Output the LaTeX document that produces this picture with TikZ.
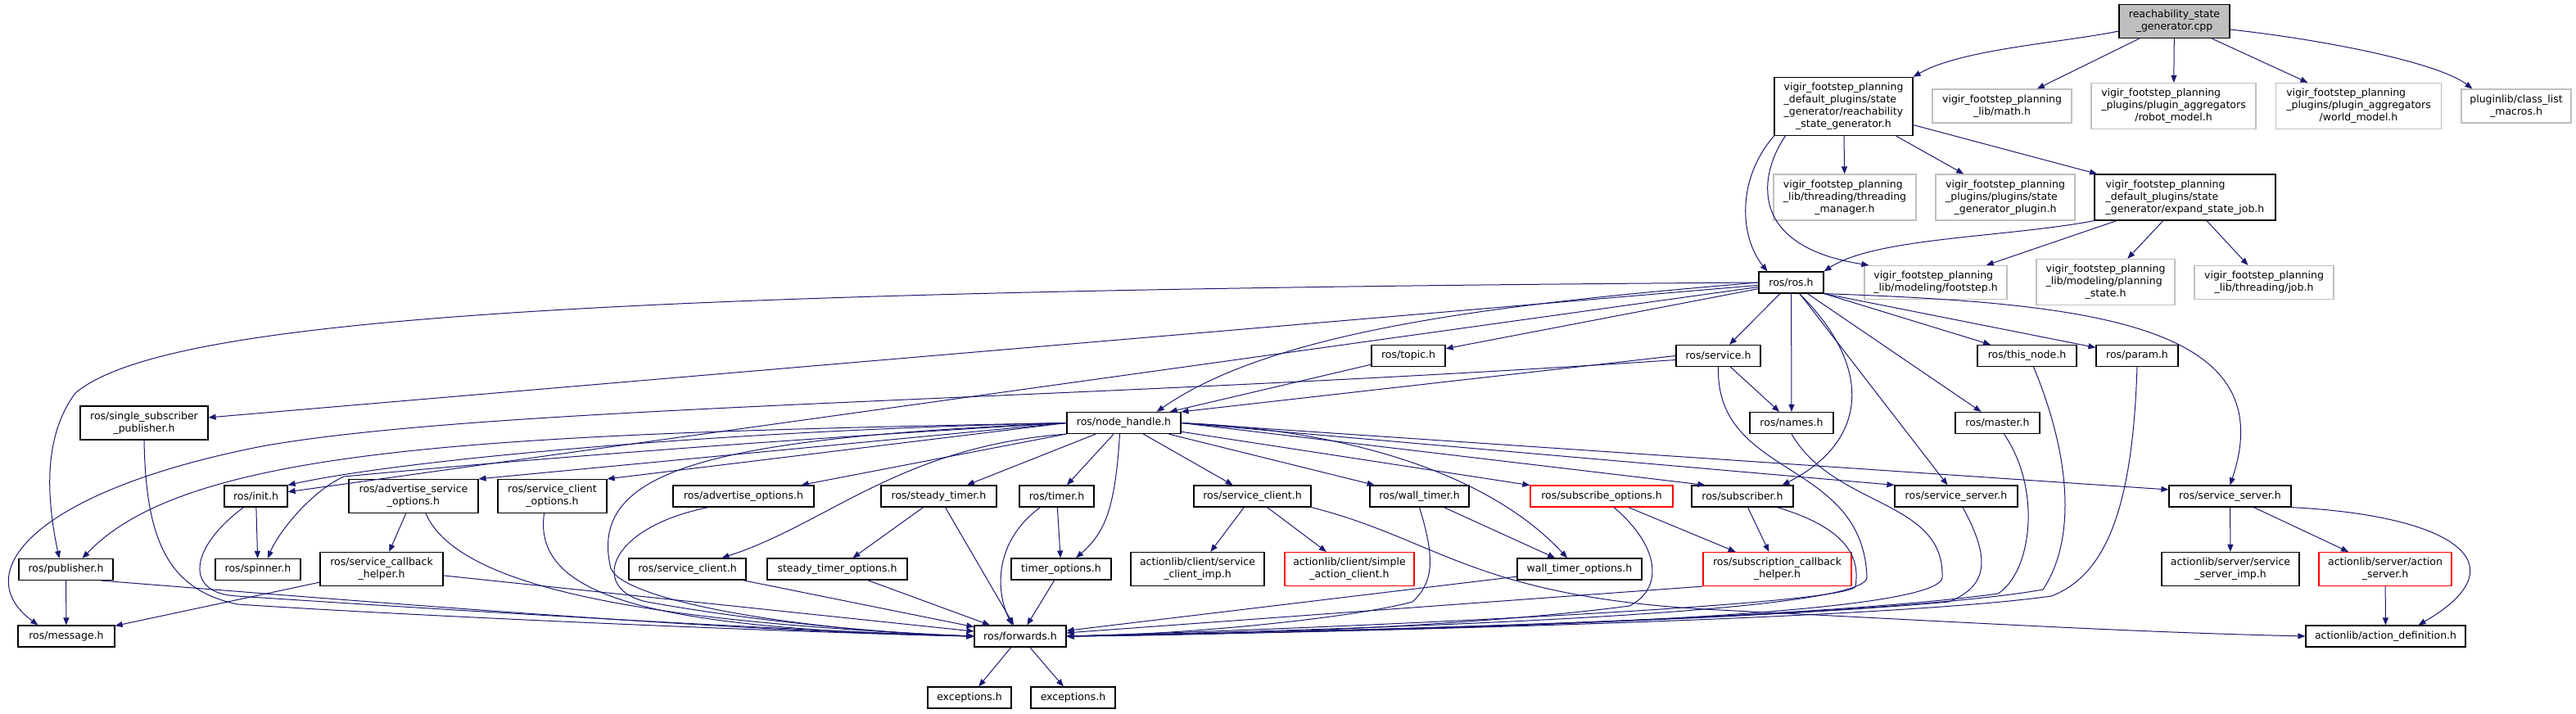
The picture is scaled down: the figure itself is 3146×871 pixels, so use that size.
\documentclass[tikz,border=0pt]{standalone}
\usepackage{fontspec}
\setmainfont{DejaVu Sans}
\usetikzlibrary{arrows.meta}
\definecolor{edgeblue}{HTML}{191970}
\definecolor{lightframe}{HTML}{BFBFBF}
\newcommand{\flines}[2]{\begin{tabular}{@{}l@{}}#1\\\multicolumn{1}{@{}c@{}}{#2}\end{tabular}}
\tikzset{
  file/.style={draw=black,line width=1.2pt,inner sep=0pt,minimum height=26pt,font=\fontsize{12.5}{15}\selectfont},
  extfile/.style={file,draw=lightframe},
  cutfile/.style={file,draw=red},
  rootfile/.style={file,fill=lightframe},
  two/.style={minimum height=41pt},
  three/.style={minimum height=56pt},
  four/.style={minimum height=71pt},
  inc/.style={draw=edgeblue,line width=1pt,-{Triangle[length=9pt,width=7pt]}}
}
\begin{document}
\begin{tikzpicture}[x=1pt,y=1pt]
\useasboundingbox (0,0) rectangle (3146,-871);
\node[rootfile,two,minimum width=135pt] (cpp) at (2655.5,-26) {\flines{reachability\_state}{\_generator.cpp}};
\node[file,four,minimum width=169pt] (reach) at (2251.5,-130) {\flines{vigir\_footstep\_planning\\\_default\_plugins/state\\\_generator/reachability}{\_state\_generator.h}};
\node[extfile,two,minimum width=170pt] (mathh) at (2445,-129.5) {\flines{vigir\_footstep\_planning}{\_lib/math.h}};
\node[extfile,three,minimum width=201pt] (robotmodel) at (2654.5,-129.5) {\flines{vigir\_footstep\_planning\\\_plugins/plugin\_aggregators}{/robot\_model.h}};
\node[extfile,three,minimum width=202pt] (worldmodel) at (2880.5,-129.5) {\flines{vigir\_footstep\_planning\\\_plugins/plugin\_aggregators}{/world\_model.h}};
\node[extfile,two,minimum width=134pt] (classlist) at (3073,-129.5) {\flines{pluginlib/class\_list}{\_macros.h}};
\node[extfile,three,minimum width=174pt] (thrmgr) at (2253,-241) {\flines{vigir\_footstep\_planning\\\_lib/threading/threading}{\_manager.h}};
\node[extfile,three,minimum width=170pt] (sgplugin) at (2449,-241) {\flines{vigir\_footstep\_planning\\\_plugins/plugins/state}{\_generator\_plugin.h}};
\node[file,three,minimum width=221pt] (expandjob) at (2668.5,-241) {\flines{vigir\_footstep\_planning\\\_default\_plugins/state}{\_generator/expand\_state\_job.h}};
\node[file,minimum width=79pt] (rosh) at (2187.5,-345) {ros/ros.h};
\node[extfile,two,minimum width=174pt] (footstep) at (2364,-345) {\flines{vigir\_footstep\_planning}{\_lib/modeling/footstep.h}};
\node[extfile,three,minimum width=169pt] (planstate) at (2571.5,-344.5) {\flines{vigir\_footstep\_planning\\\_lib/modeling/planning}{\_state.h}};
\node[extfile,two,minimum width=170pt] (job) at (2765,-345) {\flines{vigir\_footstep\_planning}{\_lib/threading/job.h}};
\node[file,minimum width=90pt] (topic) at (1720,-434.5) {ros/topic.h};
\node[file,minimum width=103pt] (service) at (2098.5,-434.5) {ros/service.h};
\node[file,minimum width=121pt] (thisnode) at (2475.5,-434.5) {ros/this\_node.h};
\node[file,minimum width=100pt] (param) at (2610,-434.5) {ros/param.h};
\node[file,two,minimum width=156pt] (sspub) at (176,-516.5) {\flines{ros/single\_subscriber}{\_publisher.h}};
\node[file,minimum width=139pt] (nodehandle) at (1372.5,-516.5) {ros/node\_handle.h};
\node[file,minimum width=102pt] (names) at (2188,-516.5) {ros/names.h};
\node[file,minimum width=103pt] (master) at (2439.5,-516.5) {ros/master.h};
\node[file,minimum width=77pt] (init) at (312.5,-606) {ros/init.h};
\node[file,two,minimum width=158pt] (advsrvopts) at (505,-606) {\flines{ros/advertise\_service}{\_options.h}};
\node[file,two,minimum width=133pt] (srvcliopts) at (674.5,-606) {\flines{ros/service\_client}{\_options.h}};
\node[file,minimum width=172pt] (advopts) at (908,-606) {ros/advertise\_options.h};
\node[file,minimum width=141pt] (steadytimer) at (1146.5,-606) {ros/steady\_timer.h};
\node[file,minimum width=91pt] (timer) at (1290.5,-606) {ros/timer.h};
\node[file,minimum width=143pt] (srvclient) at (1529.5,-606) {ros/service\_client.h};
\node[file,minimum width=121pt] (walltimer) at (1733.5,-606) {ros/wall\_timer.h};
\node[cutfile,minimum width=174pt] (subopts) at (1956,-606) {ros/subscribe\_options.h};
\node[file,minimum width=124pt] (subscriber) at (2128,-606) {ros/subscriber.h};
\node[file,minimum width=150pt] (srvserver) at (2389,-606) {ros/service\_server.h};
\node[file,minimum width=149pt] (srvserverb) at (2723.5,-606) {ros/service\_server.h};
\node[file,minimum width=115pt] (publisher) at (80.5,-695.5) {ros/publisher.h};
\node[file,minimum width=104pt] (spinner) at (315,-695.5) {ros/spinner.h};
\node[file,two,minimum width=150pt] (srvcbhelper) at (466,-695) {\flines{ros/service\_callback}{\_helper.h}};
\node[file,minimum width=143pt] (srvclientb) at (839.5,-695) {ros/service\_client.h};
\node[file,minimum width=171pt] (steadyopts) at (1022.5,-695) {steady\_timer\_options.h};
\node[file,minimum width=122pt] (timeropts) at (1296,-695) {timer\_options.h};
\node[file,two,minimum width=163pt] (cliimp) at (1462.5,-695) {\flines{actionlib/client/service}{\_client\_imp.h}};
\node[cutfile,two,minimum width=158pt] (simpleclient) at (1648,-695) {\flines{actionlib/client/simple}{\_action\_client.h}};
\node[file,minimum width=152pt] (wallopts) at (1929,-695) {wall\_timer\_options.h};
\node[cutfile,two,minimum width=181pt] (subcbhelper) at (2170.5,-695) {\flines{ros/subscription\_callback}{\_helper.h}};
\node[file,two,minimum width=168pt] (srvimp) at (2724,-695) {\flines{actionlib/server/service}{\_server\_imp.h}};
\node[cutfile,two,minimum width=162pt] (actionserver) at (2913,-695) {\flines{actionlib/server/action}{\_server.h}};
\node[file,minimum width=118pt] (message) at (81,-777) {ros/message.h};
\node[file,minimum width=112pt] (forwards) at (1246,-777) {ros/forwards.h};
\node[file,minimum width=195pt] (actiondef) at (2913.5,-777) {actionlib/action\_definition.h};
\node[file,minimum width=102pt] (exceptions) at (1184,-852) {exceptions.h};
\node[file,minimum width=103pt] (exceptionsb) at (1310.5,-852) {exceptions.h};

\draw[inc] ([yshift=-12pt]cpp.west) .. controls (2520,-52) and (2395,-60) .. (reach.north east);
\draw[inc] (cpp) -- (mathh);
\draw[inc] (cpp) -- (robotmodel);
\draw[inc] (cpp) -- (worldmodel);
\draw[inc] ([yshift=-10pt]cpp.east) .. controls (2850,-50) and (2980,-78) .. ([xshift=14pt]classlist.north west);
\draw[inc] (reach.south west) .. controls (2120,-220) and (2125,-290) .. ([xshift=11pt]rosh.north west);
\draw[inc] ([xshift=14pt]reach.south west) .. controls (2150,-210) and (2130,-300) .. ([xshift=6pt]footstep.north west);
\draw[inc] (reach) -- (thrmgr);
\draw[inc] (reach) -- (sgplugin);
\draw[inc] (reach) -- (expandjob);
\draw[inc] (expandjob.south west) .. controls (2450,-290) and (2290,-290) .. (rosh.north east);
\draw[inc] (expandjob) -- (footstep);
\draw[inc] (expandjob) -- (planstate);
\draw[inc] (expandjob) -- (job);

\draw[inc] (rosh.west) .. controls (700,-355) and (200,-390) .. (92,-480) .. controls (55,-530) and (55,-600) .. ([xshift=50pt]publisher.north west);
\draw[inc] (rosh) -- (sspub);
\draw[inc] (rosh.west) .. controls (1850,-370) and (1560,-400) .. ([xshift=-30pt]nodehandle.north east);
\draw[inc] (rosh) -- (topic);
\draw[inc] (rosh) -- (service);
\draw[inc] (rosh) -- (names);
\draw[inc] (rosh) -- (init);
\draw[inc] (rosh.south east) -- (thisnode);
\draw[inc] (rosh.south east) -- (param);
\draw[inc] (rosh) -- (master);
\draw[inc] ([xshift=10pt]rosh.south) .. controls (2290,-450) and (2280,-540) .. ([xshift=-14pt]subscriber.north east);
\draw[inc] (rosh) -- (srvserver);
\draw[inc] (rosh.south east) .. controls (2550,-370) and (2790,-395) .. (srvserverb.north);

\draw[inc] (topic) -- ([xshift=-14pt]nodehandle.north east);
\draw[inc] (service.west) -- (nodehandle.north east);
\draw[inc] (service) -- (names);
\draw[inc] ([yshift=-5pt]service.west) .. controls (1300,-490) and (600,-495) .. (320,-545) .. controls (40,-600) and (-40,-700) .. ([xshift=25pt]message.north west);
\draw[inc] (service.south) .. controls (2095,-585) and (2275,-560) .. (2280,-705) .. controls (2280,-752) and (1600,-770) .. (forwards.east);

\draw[inc] (nodehandle.west) .. controls (880,-535) and (720,-570) .. (745,-690) .. controls (748,-735) and (1000,-772) .. (forwards.west);
\draw[inc] (nodehandle.west) .. controls (600,-530) and (230,-545) .. ([xshift=-38pt]publisher.north east);
\draw[inc] (nodehandle.west) .. controls (900,-525) and (500,-560) .. (init.north east);
\draw[inc] (nodehandle.west) .. controls (900,-540) and (600,-565) .. (420,-582) .. controls (380,-600) and (340,-650) .. ([xshift=12pt]spinner.north);
\draw[inc] (nodehandle.west) -- (advsrvopts.north east);
\draw[inc] (nodehandle.west) -- (srvcliopts.north east);
\draw[inc] (nodehandle) -- (advopts);
\draw[inc] (nodehandle.south west) .. controls (1100,-545) and (1010,-640) .. ([xshift=42pt]srvclientb.north);
\draw[inc] (nodehandle) -- (steadytimer);
\draw[inc] (nodehandle) -- (timer);
\draw[inc] ([xshift=-5pt]nodehandle.south) .. controls (1362,-620) and (1350,-650) .. ([xshift=18pt]timeropts.north);
\draw[inc] (nodehandle) -- (srvclient);
\draw[inc] (nodehandle) -- (walltimer);
\draw[inc] (nodehandle.east) .. controls (1650,-525) and (1820,-580) .. ([xshift=-15pt]wallopts.north);
\draw[inc] (nodehandle) -- (subopts);
\draw[inc] (nodehandle.east) -- ([xshift=17pt]subscriber.north west);
\draw[inc] (nodehandle.east) -- (srvserver.north west);
\draw[inc] (nodehandle.east) -- ([yshift=8pt]srvserverb.west);

\draw[inc] (sspub.south) .. controls (178,-660) and (205,-720) .. (290,-738) .. controls (500,-752) and (950,-772) .. (forwards.west);
\draw[inc] ([xshift=-15pt]init.south) .. controls (230,-670) and (225,-725) .. (290,-728) .. controls (500,-742) and (950,-770) .. (forwards.west);
\draw[inc] (init) -- (spinner);
\draw[inc] ([xshift=-15pt]publisher.south east) .. controls (450,-735) and (900,-772) .. (forwards.west);
\draw[inc] (publisher) -- (message);
\draw[inc] (advsrvopts) -- (srvcbhelper);
\draw[inc] ([xshift=15pt]advsrvopts.south) .. controls (560,-720) and (800,-760) .. (forwards.west);
\draw[inc] (srvcbhelper) -- (message);
\draw[inc] (srvcbhelper) -- (forwards);
\draw[inc] ([xshift=-10pt]srvcliopts.south) .. controls (650,-730) and (800,-768) .. (forwards.west);
\draw[inc] ([xshift=-43pt]advopts.south) .. controls (740,-645) and (720,-720) .. (790,-735) .. controls (900,-755) and (1050,-772) .. (forwards.west);
\draw[inc] (srvclientb) -- (forwards);
\draw[inc] (steadytimer) -- (steadyopts);
\draw[inc] (steadytimer) -- (forwards);
\draw[inc] (steadyopts) -- (forwards);
\draw[inc] (timer) -- (timeropts);
\draw[inc] ([xshift=-20pt]timer.south) .. controls (1215,-660) and (1215,-720) .. ([xshift=-10pt]forwards.north);
\draw[inc] (timeropts) -- (forwards);
\draw[inc] (srvclient) -- (cliimp);
\draw[inc] (srvclient) -- (simpleclient);
\draw[inc] (srvclient.south east) .. controls (1760,-660) and (1800,-730) .. (2100,-745) .. controls (2400,-760) and (2600,-772) .. (actiondef.west);
\draw[inc] (walltimer) -- (wallopts);
\draw[inc] (walltimer.south) .. controls (1752,-680) and (1752,-710) .. (1725,-735) .. controls (1650,-755) and (1450,-775) .. (forwards.east);
\draw[inc] (wallopts) -- (forwards);
\draw[inc] (subopts) -- (subcbhelper);
\draw[inc] ([xshift=15pt]subopts.south) .. controls (2030,-670) and (2030,-720) .. (1990,-740) .. controls (1800,-765) and (1500,-776) .. (forwards.east);
\draw[inc] (subscriber) -- (subcbhelper);
\draw[inc] ([xshift=-20pt]subscriber.south east) .. controls (2255,-645) and (2272,-680) .. (2266,-716) .. controls (2258,-740) and (1600,-768) .. (forwards.east);
\draw[inc] (subcbhelper.south west) -- (forwards);
\draw[inc] ([xshift=8pt]srvserver.south) .. controls (2430,-680) and (2430,-715) .. (2380,-735) .. controls (2100,-760) and (1600,-772) .. (forwards.east);
\draw[inc] (names.south) .. controls (2240,-620) and (2375,-610) .. (2372,-705) .. controls (2370,-760) and (1600,-772) .. (forwards.east);
\draw[inc] ([xshift=8pt]master.south) .. controls (2495,-600) and (2480,-700) .. (2440,-725) .. controls (2200,-758) and (1600,-772) .. (forwards.east);
\draw[inc] ([xshift=8pt]thisnode.south) .. controls (2530,-560) and (2535,-660) .. (2495,-720) .. controls (2300,-755) and (1600,-772) .. (forwards.east);
\draw[inc] (param.south) .. controls (2605,-600) and (2580,-700) .. (2505,-728) .. controls (2300,-757) and (1600,-773) .. (forwards.east);
\draw[inc] (srvserverb) -- (srvimp);
\draw[inc] (srvserverb) -- (actionserver);
\draw[inc] (srvserverb.south east) .. controls (3000,-630) and (3080,-690) .. ([xshift=40pt]actiondef.north);
\draw[inc] (actionserver) -- (actiondef);
\draw[inc] (forwards) -- (exceptions);
\draw[inc] (forwards) -- (exceptionsb);
\end{tikzpicture}
\end{document}
